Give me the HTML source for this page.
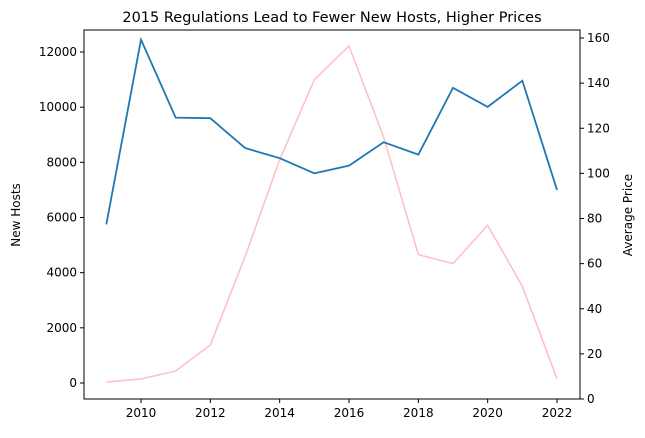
<!DOCTYPE html>
<html><head><meta charset="utf-8"><style>
body{margin:0;background:#fff;font-family:"Liberation Sans","DejaVu Sans",sans-serif}
text{font-family:"DejaVu Sans","Liberation Sans",sans-serif}
</style></head><body>
<svg id="c" width="645" height="433" xmlns="http://www.w3.org/2000/svg"></svg>
<script>
const years=[2009,2010,2011,2012,2013,2014,2015,2016,2017,2018,2019,2020,2021,2022];
const newHosts=[5750,12450,9620,9600,8520,8150,7600,7880,8730,8280,10700,10010,10960,7000];
const avgPrice=[7.5,8.9,12.4,24,63,106,141.5,156.5,116,64,60,77,50,9];
const xTicks=[2010,2012,2014,2016,2018,2020,2022];
const leftTicks=[0,2000,4000,6000,8000,10000,12000];
const rightTicks=[0,20,40,60,80,100,120,140,160];
const L=84,R=580,T=30,B=399;
const sx=v=>141+(v-2010)*(557-141)/12;
const syL=v=>383-v*(383-52)/12000;
const syR=v=>399-v*(399-38)/160;
const svg=document.getElementById('c');
const NS='http://www.w3.org/2000/svg';
function mk(t,a,txt){const e=document.createElementNS(NS,t);for(const k in a)e.setAttribute(k,a[k]);if(txt!==undefined)e.textContent=txt;svg.appendChild(e);return e;}
let e;
e=mk('text',{x:332,y:22,'text-anchor':'middle','font-size':14.5},'2015 Regulations Lead to Fewer New Hosts, Higher Prices');

e=mk('polyline',{points:years.map((y,i)=>sx(y)+','+syR(avgPrice[i])).join(' '),fill:'none',stroke:'#ffc0cb','stroke-width':1.6});

e=mk('polyline',{points:years.map((y,i)=>sx(y)+','+syL(newHosts[i])).join(' '),fill:'none',stroke:'#1f77b4','stroke-width':1.8});

e=mk('rect',{x:L,y:T,width:R-L,height:B-T,fill:'none',stroke:'#000','stroke-width':1});

xTicks.forEach(v=>{const x=sx(v);mk('line',{x1:x,x2:x,y1:B,y2:B+4,stroke:'#000'});
e=mk('text',{x:x,y:B+18,'text-anchor':'middle','font-size':12},v);});
leftTicks.forEach(v=>{const y=syL(v);mk('line',{x1:L-4,x2:L,y1:y,y2:y,stroke:'#000'});
e=mk('text',{x:L-7,y:y+4,'text-anchor':'end','font-size':12},v);});
rightTicks.forEach(v=>{const y=syR(v);mk('line',{x1:R,x2:R+4,y1:y,y2:y,stroke:'#000'});
e=mk('text',{x:R+7,y:y+4,'text-anchor':'start','font-size':12},v);});
e=mk('text',{x:20,y:215,'text-anchor':'middle','font-size':12,transform:'rotate(-90 20 215)'},'New Hosts');

e=mk('text',{x:632,y:215,'text-anchor':'middle','font-size':12,transform:'rotate(-90 632 215)'},'Average Price');

</script>
</body></html>
